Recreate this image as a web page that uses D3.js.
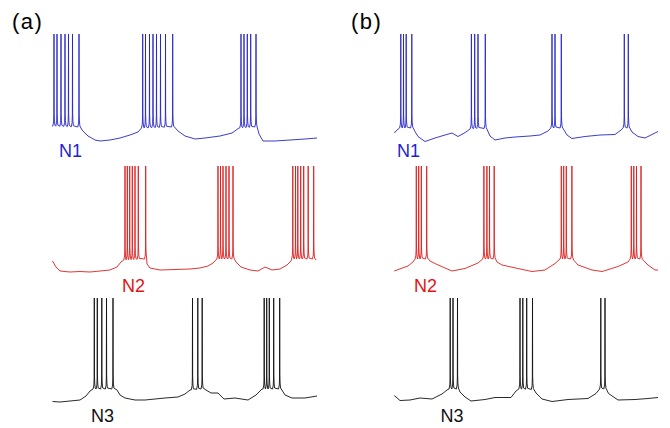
<!DOCTYPE html>
<html>
<head>
<meta charset="utf-8">
<script src="https://cdn.jsdelivr.net/npm/d3@7"></script>
<style>
  body { margin: 0; background: #fff; }
  svg { display: block; font-family: "Liberation Sans", Arial, sans-serif; }
</style>
</head>
<body>
<div id="chart"></div>
<script>
// time in ms, membrane potential in mV
const panelLabels = ["(a)", "(b)"];
const neuronLabels = ["N1", "N2", "N3"];
const neuronColors = ["#2626c8", "#dc1e1e", "#111111"];
const labelColors = ["#1f1fd0", "#e01414", "#111111"];
const spikePeak = 20;

// panel (a)
const spikesA1 = [20, 50, 90, 130, 165, 205, 270, 907, 935, 975, 1010, 1045, 1085, 1135, 1207, 1890, 1920, 1953, 1987, 2040];
const baseA1 = [[0,-72],[270,-73],[300,-76],[360,-82],[430,-86],[480,-87],[580,-86],[680,-84],[780,-81],[860,-78],[900,-74],[1210,-73],[1260,-77],[1330,-82],[1430,-85],[1530,-84],[1680,-82],[1800,-79],[1870,-74],[2040,-73],[2070,-80],[2110,-87],[2230,-87],[2380,-86],[2530,-85],[2650,-84]];

const spikesA2 = [730, 753, 777, 803, 830, 863, 937, 1660, 1685, 1710, 1740, 1770, 1810, 2408, 2435, 2458, 2487, 2517, 2562, 2617];
const baseA2 = [[5,-75],[40,-81],[80,-85],[180,-86],[280,-85.5],[380,-86],[480,-85],[580,-84],[650,-81],[690,-76],[730,-74],[937,-73],[950,-78],[980,-82],[1080,-84],[1230,-83.5],[1380,-83],[1480,-82],[1560,-80],[1610,-77],[1650,-73],[1810,-73],[1840,-76],[1890,-81],[1980,-84],[2060,-85],[2130,-81],[2200,-84],[2280,-83],[2350,-79],[2390,-75],[2410,-73],[2620,-73],[2640,-74]];

const spikesA3 = [423, 453, 498, 545, 610, 1405, 1458, 1502, 2122, 2147, 2173, 2217, 2277];
const baseA3 = [[5,-83.5],[80,-84],[180,-83],[280,-82],[340,-78],[380,-73],[420,-71],[610,-71],[650,-72],[680,-77],[730,-80],[830,-82],[930,-82],[1030,-81],[1130,-80],[1260,-79],[1330,-76],[1380,-72],[1502,-71],[1540,-72],[1590,-75],[1660,-75],[1720,-81],[1830,-80],[1960,-82],[2040,-77],[2100,-71],[2280,-71],[2330,-77],[2400,-80],[2530,-80],[2650,-78]];

// panel (b)
const spikesB1 = [68, 95, 122, 178, 774, 807, 840, 913, 1580, 1610, 1673, 2303, 2343];
const baseB1 = [[3,-79],[30,-76],[60,-74],[180,-74],[210,-77.5],[240,-82.5],[310,-87.5],[410,-84],[510,-81],[580,-79],[640,-82.5],[720,-78],[760,-75],[910,-74],[960,-82],[1010,-86],[1110,-84],[1210,-83],[1360,-82],[1460,-81],[1540,-77],[1570,-74],[1680,-74],[1730,-81],[1780,-84.5],[1910,-82.5],[2060,-81],[2210,-80.5],[2270,-76],[2300,-74],[2350,-74],[2380,-78],[2440,-82.5],[2510,-84],[2570,-81],[2640,-77.5]];

const spikesB2 = [223, 247, 273, 327, 899, 929, 955, 1002, 1673, 1697, 1723, 1779, 2373, 2398, 2425, 2470];
const baseB2 = [[3,-85],[70,-82.5],[140,-80],[190,-76],[220,-73],[330,-73],[360,-75],[420,-78],[510,-82],[580,-85],[710,-82.5],[840,-77],[890,-73],[1005,-73],[1030,-76],[1080,-79],[1240,-82.5],[1380,-85.5],[1510,-84],[1610,-77.5],[1660,-73],[1780,-73],[1800,-74.5],[1840,-79],[1980,-84],[2080,-85.5],[2240,-80.5],[2340,-76],[2370,-73],[2470,-73],[2495,-74.5],[2540,-79],[2610,-84],[2640,-84]];

const spikesB3 = [562, 590, 635, 1260, 1288, 1327, 1385, 2068, 2110];
const baseB3 = [[3,-77.5],[60,-82.5],[160,-82],[260,-80],[380,-81],[480,-76],[530,-72],[560,-71],[635,-71],[660,-74],[710,-79],[770,-83],[910,-81.5],[1010,-79.5],[1170,-79.5],[1220,-73],[1260,-71],[1385,-71.5],[1420,-75],[1480,-81],[1580,-83.5],[1740,-81.5],[1940,-80.5],[2020,-75.5],[2060,-71],[2110,-71],[2145,-75.5],[2240,-82],[2410,-81.5],[2540,-80.5],[2640,-79.5]];

const panels = [
  { label: panelLabels[0], traces: [[spikesA1, baseA1], [spikesA2, baseA2], [spikesA3, baseA3]] },
  { label: panelLabels[1], traces: [[spikesB1, baseB1], [spikesB2, baseB2], [spikesB3, baseB3]] }
];

const width = 670, height = 428;
const panelX = [[52, 317], [394, 659]];
const rowTop = [34, 166, 298];
const labelPos = [
  [[59, 157], [122, 291.5], [91, 421.5]],
  [[397, 157], [414, 291.5], [440.5, 421.5]]
];
const panelLabelPos = [[12, 28.5], [351, 28.5]];

// spike waveform: [dt ms, dv mV above local baseline]; dt 0 is the peak
const glyph = [[-12, 0], [-4, 4], [-1.5, 12], [0, null], [1.5, 14], [4, 6], [9, 1]];

function tracePoints(spikes, base) {
  const bis = d3.bisector(d => d[0]).left;
  const vAt = t => {
    const i = Math.max(1, Math.min(base.length - 1, bis(base, t)));
    const a = base[i - 1], b = base[i];
    return a[1] + (b[1] - a[1]) * (t - a[0]) / (b[0] - a[0]);
  };
  const pts = base.filter(p => !spikes.some(s => p[0] > s - 12 && p[0] < s + 9));
  spikes.forEach(s => {
    const v0 = vAt(s);
    glyph.forEach(([dt, dv]) => pts.push([s + dt, dv === null ? spikePeak : v0 + dv]));
  });
  return pts.sort((a, b) => a[0] - b[0]);
}

const svg = d3.select("#chart").append("svg")
  .attr("width", width)
  .attr("height", height);

panels.forEach((panel, pi) => {
  const x = d3.scaleLinear().domain([0, 2650]).range(panelX[pi]);

  svg.append("text")
    .attr("x", panelLabelPos[pi][0])
    .attr("y", panelLabelPos[pi][1])
    .style("font-size", "22px")
    .style("letter-spacing", "1.5px")
    .style("fill", "#000")
    .text(panel.label);

  panel.traces.forEach(([spikes, base], ri) => {
    const y = d3.scaleLinear().domain([-90, 20]).range([rowTop[ri] + 110, rowTop[ri]]);
    const line = d3.line().x(d => x(d[0])).y(d => y(d[1]));

    svg.append("path")
      .datum(tracePoints(spikes, base))
      .attr("d", line)
      .attr("fill", "none")
      .attr("stroke", neuronColors[ri])
      .attr("stroke-width", 0.9)
      .attr("stroke-linejoin", "round");

    svg.append("text")
      .attr("x", labelPos[pi][ri][0])
      .attr("y", labelPos[pi][ri][1])
      .style("font-size", "18px")
      .style("fill", labelColors[ri])
      .text(neuronLabels[ri]);
  });
});
</script>
</body>
</html>
